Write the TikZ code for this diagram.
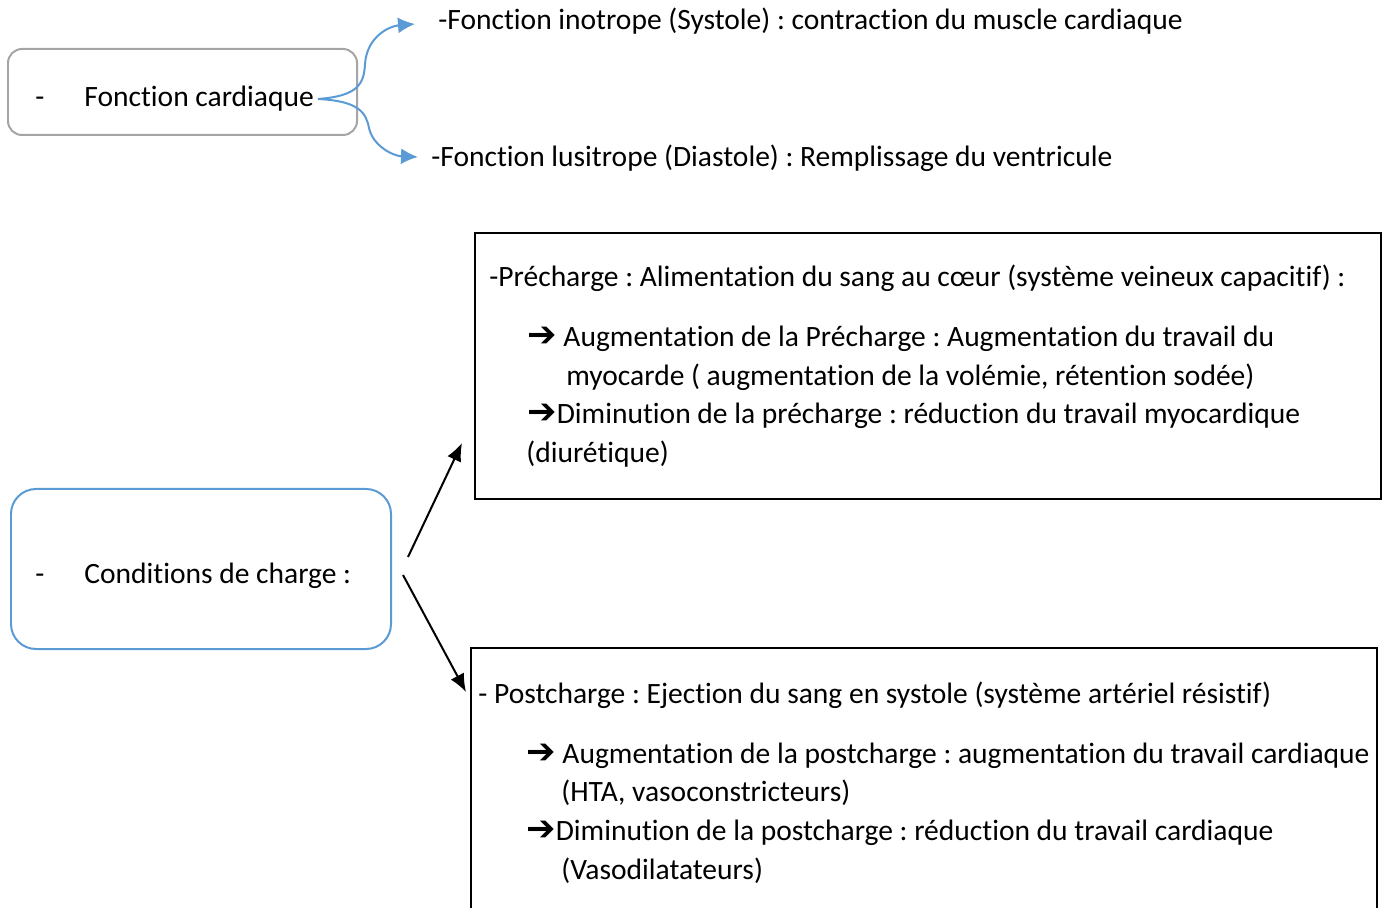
\documentclass[tikz,border=0pt]{standalone}
\usepackage{fontspec}
\setmainfont[Ligatures=NoCommon]{Carlito}
\newfontfamily\symfont{DejaVu Sans}
\usetikzlibrary{arrows.meta}
\definecolor{bleu}{HTML}{5B9BD5}
\definecolor{gris}{HTML}{A5A5A5}
\newcommand{\fl}{{\symfont\bfseries\fontsize{20}{22}\selectfont ➔}}
\tikzset{
  txt/.style={anchor=base west, inner sep=0pt},
  barr/.style={bleu, line width=0.04cm, -{Latex[length=3.4mm, width=3.2mm]}},
  narr/.style={black, line width=0.04cm, -{Latex[length=3.6mm, width=3mm]}}
}
\frenchspacing
\begin{document}
\begin{tikzpicture}[x=0.02cm, y=-0.02cm, font=\fontsize{16.8}{22}\selectfont]
  \useasboundingbox (0,0) rectangle (1386,908);
  \clip (0,0) rectangle (1386,908);

  % fonction cardiaque
  \draw[gris, line width=0.04cm, rounded corners=0.28cm] (8,49) rectangle (357,135);
  \node[txt] (tiret1) at (35,107) {-};
  \node[txt] (fc) at (84,107) {Fonction cardiaque};
  \node[txt] (inotrope) at (438,30) {-Fonction inotrope (Systole) : contraction du muscle cardiaque};
  \node[txt] (lusitrope) at (431,167) {-Fonction lusitrope (Diastole) : Remplissage du ventricule};
  \coordinate (fcout) at (318,99);
  \coordinate (inoin) at (415,24);
  \coordinate (lusin) at (418,157);
  \draw[barr] (fcout) .. controls (358,96) and (364,84) .. (365,64)
                      .. controls (367,36) and (390,26) .. (inoin);
  \draw[barr] (fcout) .. controls (358,101) and (366,112) .. (369,128)
                      .. controls (373,146) and (393,156) .. (lusin);

  % conditions de charge
  \draw[bleu, line width=0.04cm, rounded corners=0.5cm] (11,489) rectangle (391,649);
  \node[txt] (tiret2) at (35,583) {-};
  \node[txt] (cond) at (84,583) {Conditions de charge :};

  % precharge
  \draw[line width=0.04cm] (475,233) rectangle (1381,499);
  \node[txt] (pre) at (489,287) {-Précharge : Alimentation du sang au cœur (système veineux capacitif) :};
  \node[txt] (preA) at (527,347) {\fl\ Augmentation de la Précharge : Augmentation du travail du};
  \node[txt] (preA2) at (566,386) {myocarde ( augmentation de la volémie, rétention sodée)};
  \node[txt] (preB) at (527,424) {\fl Diminution de la précharge : réduction du travail myocardique};
  \node[txt] (preB2) at (526,463) {(diurétique)};

  % postcharge
  \draw[line width=0.04cm] (471,648) rectangle (1377,930);
  \node[txt] (post) at (478,703) {- Postcharge : Ejection du sang en systole (système artériel résistif)};
  \node[txt] (postA) at (526,763) {\fl\ Augmentation de la postcharge : augmentation du travail cardiaque};
  \node[txt] (postA2) at (561,801) {(HTA, vasoconstricteurs)};
  \node[txt] (postB) at (526,840) {\fl Diminution de la postcharge : réduction du travail cardiaque};
  \node[txt] (postB2) at (561,879) {(Vasodilatateurs)};

  \coordinate (c1) at (408,557);
  \coordinate (c2) at (403,575);
  \coordinate (p1) at (462,443);
  \coordinate (p2) at (466,692);
  \draw[narr] (c1) -- (p1);
  \draw[narr] (c2) -- (p2);
\end{tikzpicture}
\end{document}
